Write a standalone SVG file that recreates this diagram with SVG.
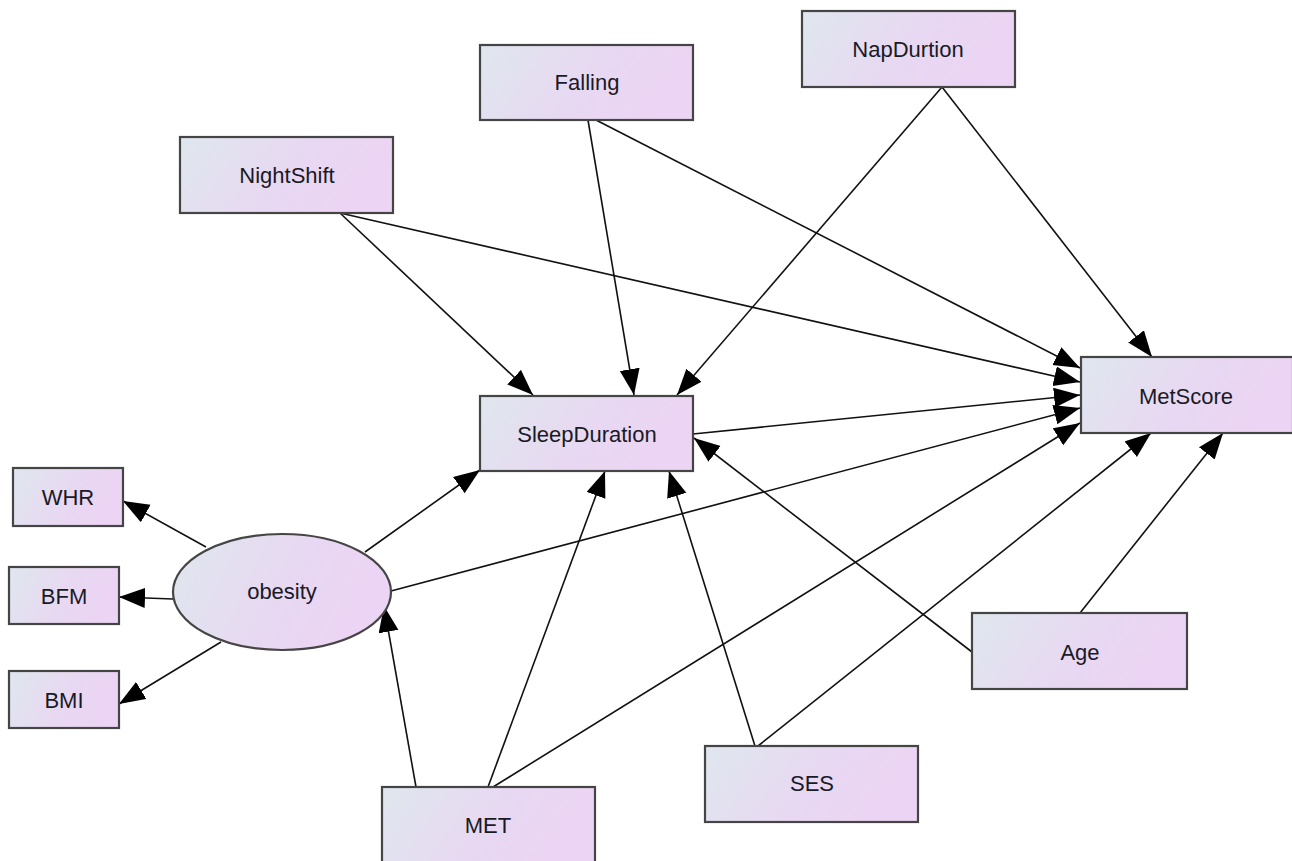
<svg xmlns="http://www.w3.org/2000/svg" width="1292" height="861" viewBox="0 0 1292 861">
<defs>
<linearGradient id="g" x1="0" y1="0" x2="1" y2="0.25">
<stop offset="0" stop-color="#dfe7ee"/>
<stop offset="0.6" stop-color="#e8d8f2"/>
<stop offset="1" stop-color="#ecd4f4"/>
</linearGradient>
<marker id="ah" markerUnits="userSpaceOnUse" markerWidth="28" markerHeight="22" refX="26" refY="10" orient="auto">
<path d="M0,0 L26,10 L0,20 z" fill="#000"/>
</marker>
<style>
.n{fill:url(#g);stroke:#454545;stroke-width:2.2}
.t{font-family:"Liberation Sans",Arial,sans-serif;font-size:22px;fill:#1a1a26;text-anchor:middle;dominant-baseline:central}
.c line{stroke:#111;stroke-width:1.6;marker-end:url(#ah)}
</style>
</defs>
<rect width="1292" height="861" fill="#fff"/>
<g class="c" id="connectors">
<line x1="340" y1="213" x2="533" y2="395"/>
<line x1="340" y1="213" x2="1080" y2="382"/>
<line x1="588" y1="120" x2="634" y2="395"/>
<line x1="596" y1="120" x2="1080" y2="368"/>
<line x1="942" y1="87" x2="677" y2="395"/>
<line x1="942" y1="87" x2="1152" y2="357"/>
<line x1="693" y1="434" x2="1080" y2="395"/>
<line x1="365" y1="552" x2="480" y2="470"/>
<line x1="391" y1="591" x2="1080" y2="408"/>
<line x1="488" y1="787" x2="605" y2="471"/>
<line x1="493" y1="787" x2="1080" y2="423"/>
<line x1="416" y1="787" x2="384" y2="606"/>
<line x1="755" y1="746" x2="669" y2="471"/>
<line x1="758" y1="746" x2="1151" y2="433"/>
<line x1="972" y1="652" x2="694" y2="438"/>
<line x1="1080" y1="613" x2="1223" y2="433"/>
<line x1="206" y1="547" x2="123" y2="501"/>
<line x1="173" y1="599" x2="119" y2="597"/>
<line x1="221" y1="642" x2="119" y2="704"/>
</g>
<g id="Falling"><rect class="n" x="480" y="45" width="213" height="75"/><text class="t" x="587" y="82">Falling</text></g>
<g id="NapDurtion"><rect class="n" x="802" y="11" width="213" height="76"/><text class="t" x="908" y="49">NapDurtion</text></g>
<g id="NightShift"><rect class="n" x="180" y="137" width="213" height="76"/><text class="t" x="287" y="175">NightShift</text></g>
<g id="SleepDuration"><rect class="n" x="480" y="396" width="213" height="75"/><text class="t" x="587" y="434">SleepDuration</text></g>
<g id="MetScore"><rect class="n" x="1081" y="357" width="212" height="76"/><text class="t" x="1186" y="396">MetScore</text></g>
<g id="WHR"><rect class="n" x="13" y="468" width="110" height="58"/><text class="t" x="68" y="497">WHR</text></g>
<g id="BFM"><rect class="n" x="9" y="567" width="110" height="57"/><text class="t" x="64" y="596">BFM</text></g>
<g id="BMI"><rect class="n" x="9" y="671" width="110" height="57"/><text class="t" x="64" y="700">BMI</text></g>
<g id="obesity"><ellipse class="n" cx="282" cy="592" rx="109" ry="58"/><text class="t" x="282" y="591">obesity</text></g>
<g id="Age"><rect class="n" x="972" y="613" width="215" height="76"/><text class="t" x="1080" y="652">Age</text></g>
<g id="SES"><rect class="n" x="705" y="746" width="213" height="76"/><text class="t" x="812" y="783">SES</text></g>
<g id="MET"><rect class="n" x="382" y="787" width="213" height="78"/><text class="t" x="488" y="825">MET</text></g>
</svg>
